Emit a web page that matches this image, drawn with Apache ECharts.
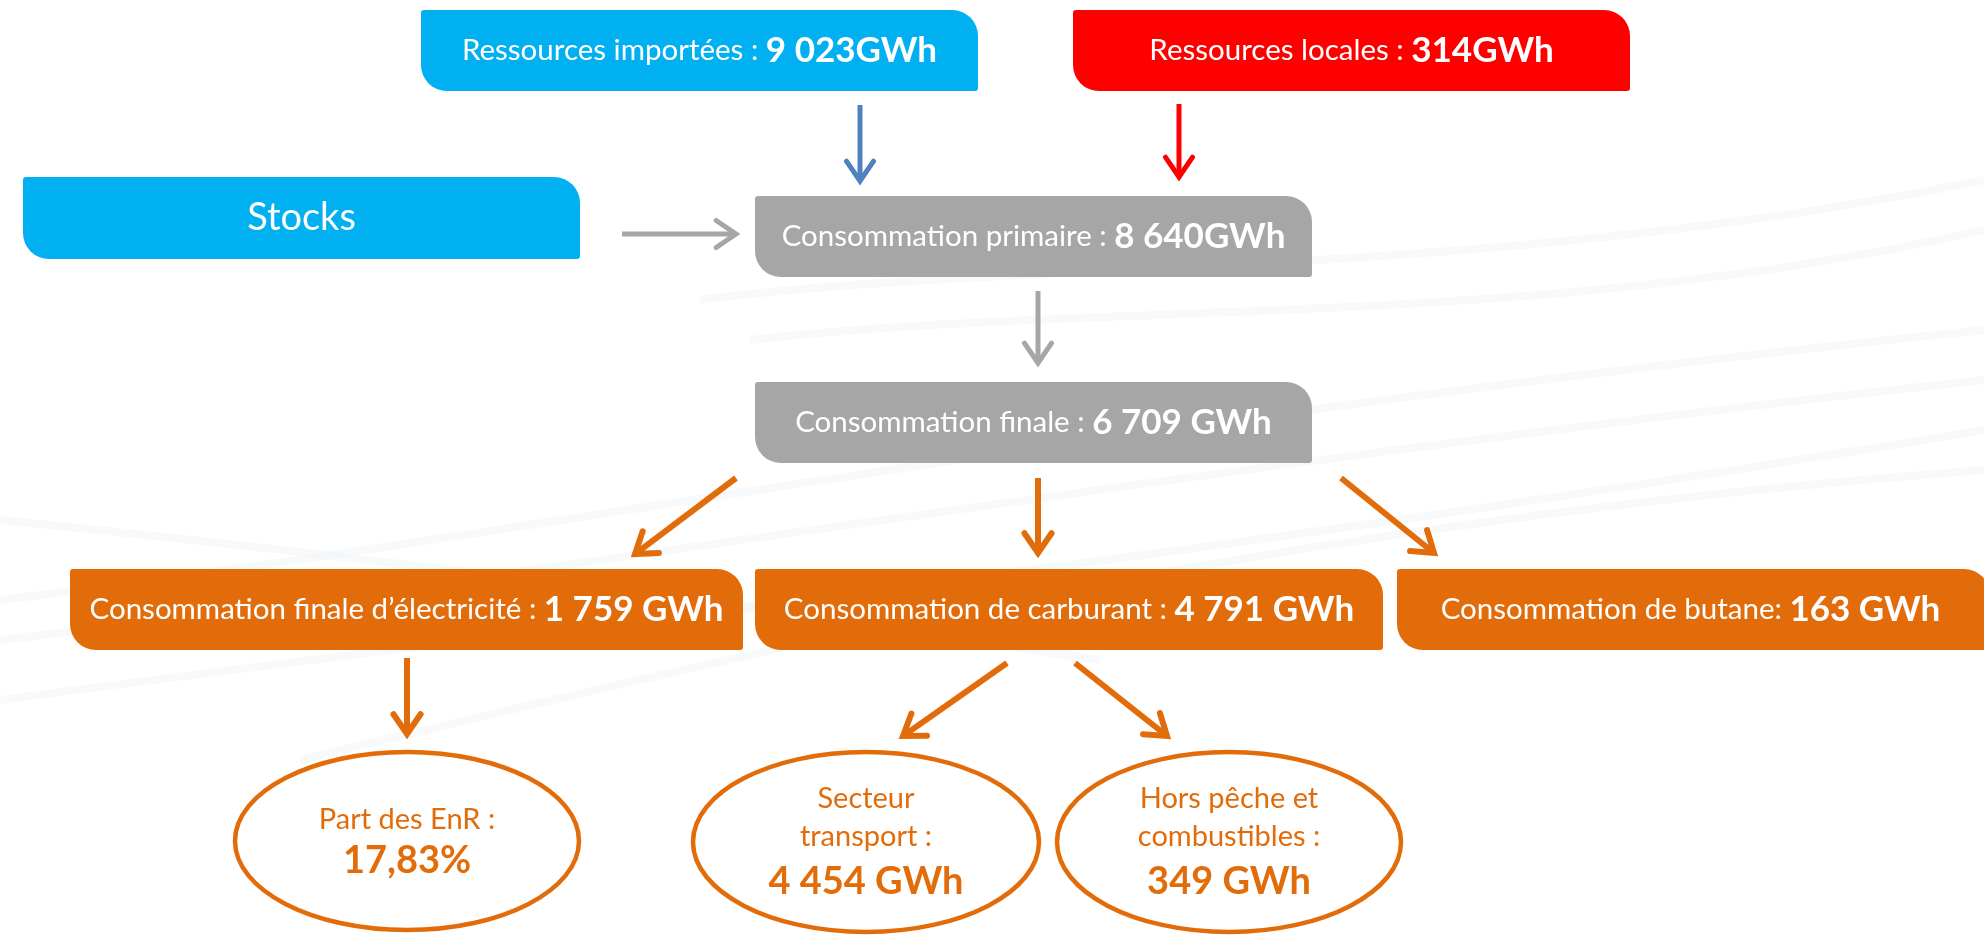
<!DOCTYPE html>
<html>
<head>
<meta charset="utf-8">
<script src="https://cdn.jsdelivr.net/npm/echarts/dist/echarts.min.js"></script>
<style>
  html, body { margin: 0; padding: 0; background: #fff; }
  #chart { width: 1984px; height: 937px; }
</style>
</head>
<body>
<div id="chart"></div>
<script>
// flow boxes: label + value
const boxLabels = [
    'Ressources importées :',
    'Ressources locales :',
    'Stocks',
    'Consommation primaire :',
    'Consommation finale :',
    'Consommation finale d’électricité :',
    'Consommation de carburant :',
    'Consommation de butane:'
];
const boxValues = ['9 023GWh', '314GWh', '', '8 640GWh', '6 709 GWh', '1 759 GWh', '4 791 GWh', '163 GWh'];

// result ovals
const ovalLabels = [['Part des EnR :'], ['Secteur', 'transport :'], ['Hors pêche et', 'combustibles :']];
const ovalValues = ['17,83%', '4 454 GWh', '349 GWh'];

// layout (diagram units = page pixels)
const boxRects = [
    [421, 10, 978, 91],
    [1073, 10, 1630, 91],
    [23, 177, 580, 259],
    [755, 196, 1312, 277],
    [755, 382, 1312, 463],
    [70, 569, 743, 650],
    [755, 569, 1383, 650],
    [1397, 569, 1990, 650]
];
const boxColors = ['#00B0F0', '#FF0000', '#00B0F0', '#A6A6A6', '#A6A6A6', '#E36C0A', '#E36C0A', '#E36C0A'];
const ovalShapes = [
    [407, 841, 172, 89],
    [866, 842, 173, 90],
    [1229, 842, 172, 90]
];
const arrows = [
    [860, 105, 860, 181, '#4F81BD'],
    [1179, 104, 1179, 177, '#FF0000'],
    [622, 234, 736, 234, '#A6A6A6'],
    [1038, 291, 1038, 363, '#A6A6A6'],
    [736, 478, 635, 554, '#E36C0A'],
    [1038, 478, 1038, 553, '#E36C0A'],
    [1341, 478, 1434, 553, '#E36C0A'],
    [407, 658, 407, 734, '#E36C0A'],
    [1007, 663, 903, 736, '#E36C0A'],
    [1075, 663, 1167, 736, '#E36C0A']
];
// faint decorative swooshes of the slide background
const swooshes = [
    [[0, 600], [500, 540], [1100, 420], [1984, 330]],
    [[0, 640], [520, 580], [1150, 470], [1984, 380]],
    [[0, 700], [600, 620], [1200, 560], [1984, 430]],
    [[300, 760], [800, 640], [1300, 520], [1984, 470]],
    [[700, 300], [1000, 260], [1500, 280], [1984, 180]],
    [[750, 340], [1100, 300], [1550, 330], [1984, 230]],
    [[0, 520], [400, 560], [700, 600], [1100, 660]]
];

const FONT = 'Lato, "Open Sans", sans-serif';
const ORANGE = '#E36C0A';

function renderBox(params, api) {
    const i = params.dataIndex;
    const p1 = api.coord([api.value(0), api.value(1)]);
    const p2 = api.coord([api.value(2), api.value(3)]);
    let text;
    if (boxValues[i]) {
        text = '{n|' + boxLabels[i] + ' }{v|' + boxValues[i] + '}';
    } else {
        text = '{s|' + boxLabels[i] + '}';
    }
    return {
        type: 'group',
        children: [
            {
                type: 'rect',
                shape: { x: p1[0], y: p1[1], width: p2[0] - p1[0], height: p2[1] - p1[1], r: [3, 26, 3, 26] },
                style: { fill: boxColors[i] }
            },
            {
                type: 'text',
                x: (p1[0] + Math.min(p2[0], 1984)) / 2,
                y: (p1[1] + p2[1]) / 2,
                style: {
                    text: text,
                    align: 'center',
                    verticalAlign: 'middle',
                    fill: '#fff',
                    rich: {
                        n: { fontFamily: FONT, fontSize: 29.5, fill: '#fff' },
                        v: { fontFamily: FONT, fontSize: 35, fontWeight: 'bold', fill: '#fff' },
                        s: { fontFamily: FONT, fontSize: 38, fill: '#fff' }
                    }
                }
            }
        ]
    };
}

function renderOval(params, api) {
    const i = params.dataIndex;
    const c = api.coord([api.value(0), api.value(1)]);
    const e = api.coord([api.value(0) + api.value(2), api.value(1) + api.value(3)]);
    const lines = ovalLabels[i].map(function (l) { return '{n|' + l + '}'; });
    const single = lines.length === 1;
    lines.push('{v|' + ovalValues[i] + '}');
    return {
        type: 'group',
        children: [
            {
                type: 'ellipse',
                shape: { cx: c[0], cy: c[1], rx: e[0] - c[0], ry: e[1] - c[1] },
                style: { fill: '#fff', stroke: ORANGE, lineWidth: 4.5 }
            },
            {
                type: 'text',
                x: c[0],
                y: c[1] + (single ? 1 : 2),
                style: {
                    text: lines.join('\n'),
                    align: 'center',
                    verticalAlign: 'middle',
                    rich: {
                        n: { fontFamily: FONT, fontSize: 29, fill: ORANGE, lineHeight: 38, align: 'center' },
                        v: { fontFamily: FONT, fontSize: 38, fontWeight: 'bold', fill: ORANGE, lineHeight: single ? 44 : 52, align: 'center' }
                    }
                }
            }
        ]
    };
}

function renderArrow(params, api) {
    const i = params.dataIndex;
    const a = api.coord([api.value(0), api.value(1)]);
    const b = api.coord([api.value(2), api.value(3)]);
    const color = arrows[i][4];
    const ang = Math.atan2(b[1] - a[1], b[0] - a[0]);
    const len = 24, spread = 0.6;
    const h1 = [b[0] - len * Math.cos(ang - spread), b[1] - len * Math.sin(ang - spread)];
    const h2 = [b[0] - len * Math.cos(ang + spread), b[1] - len * Math.sin(ang + spread)];
    const w = color === ORANGE ? 6 : 5;
    return {
        type: 'group',
        children: [
            {
                type: 'line',
                shape: { x1: a[0], y1: a[1], x2: b[0] - 2 * Math.cos(ang), y2: b[1] - 2 * Math.sin(ang) },
                style: { stroke: color, lineWidth: w, lineCap: 'butt' }
            },
            {
                type: 'polyline',
                shape: { points: [h1, b, h2] },
                style: { stroke: color, lineWidth: w, lineCap: 'round', lineJoin: 'miter', fill: null }
            }
        ]
    };
}

function renderSwoosh(params, api) {
    const s = swooshes[params.dataIndex];
    const p = s.map(function (pt) { return api.coord(pt); });
    return {
        type: 'bezierCurve',
        shape: {
            x1: p[0][0], y1: p[0][1],
            cpx1: p[1][0], cpy1: p[1][1],
            cpx2: p[2][0], cpy2: p[2][1],
            x2: p[3][0], y2: p[3][1]
        },
        style: { stroke: '#F2F5F8', lineWidth: 8, fill: null, opacity: 0.6 }
    };
}

const chart = echarts.init(document.getElementById('chart'));
chart.setOption({
    animation: false,
    backgroundColor: '#fff',
    grid: { left: 0, right: 0, top: 0, bottom: 0 },
    xAxis: { type: 'value', min: 0, max: 1984, show: false },
    yAxis: { type: 'value', min: 0, max: 937, inverse: true, show: false },
    series: [
        {
            type: 'custom',
            name: 'background',
            renderItem: renderSwoosh,
            clip: true,
            silent: true,
            data: swooshes.map(function (s) { return s[0]; })
        },
        {
            type: 'custom',
            name: 'arrows',
            renderItem: renderArrow,
            clip: false,
            data: arrows.map(function (r) { return r.slice(0, 4); })
        },
        {
            type: 'custom',
            name: 'boxes',
            renderItem: renderBox,
            clip: true,
            data: boxRects
        },
        {
            type: 'custom',
            name: 'ovals',
            renderItem: renderOval,
            clip: false,
            data: ovalShapes
        }
    ]
});
</script>
</body>
</html>
